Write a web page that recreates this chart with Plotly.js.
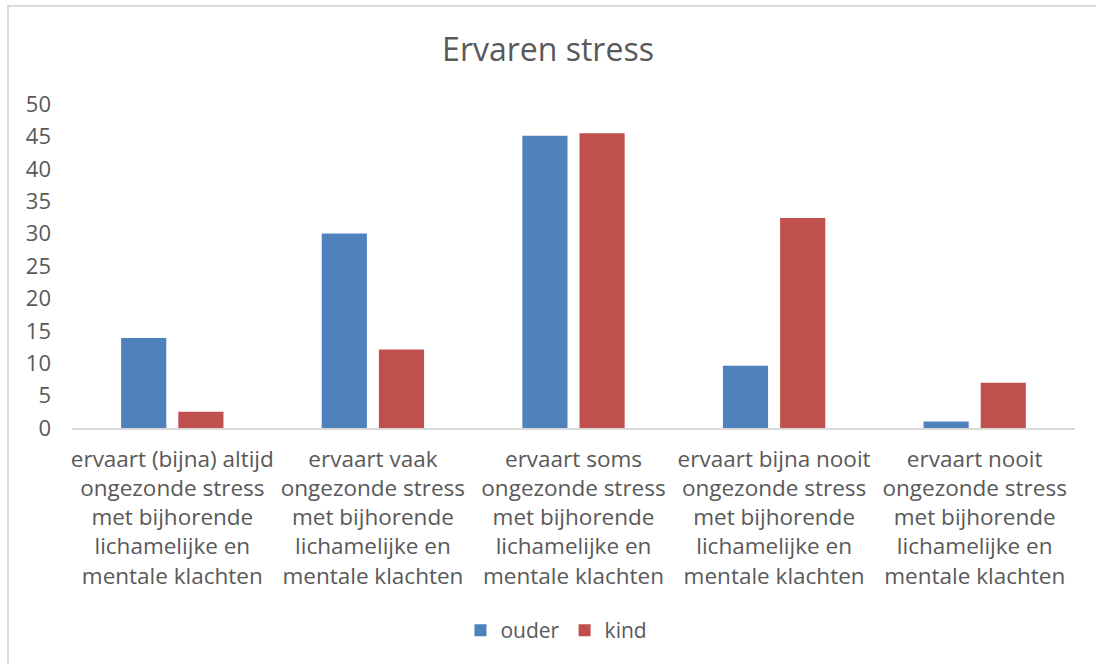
<!DOCTYPE html>
<html>
<head>
<meta charset="utf-8">
<script src="https://cdn.plot.ly/plotly-3.0.1.min.js"></script>
<style>
html,body{margin:0;padding:0;background:#fff;overflow:hidden;}
#chart{width:1096px;height:664px;}
#frame{position:absolute;left:7px;top:5px;width:2000px;height:2000px;border:2px solid #D9D9D9;pointer-events:none;}
</style>
</head>
<body>
<div id="chart"></div>
<div id="frame"></div>
<script>
const categories = [
  "ervaart (bijna) altijd<br>ongezonde stress<br>met bijhorende<br>lichamelijke en<br>mentale klachten",
  "ervaart vaak<br>ongezonde stress<br>met bijhorende<br>lichamelijke en<br>mentale klachten",
  "ervaart soms<br>ongezonde stress<br>met bijhorende<br>lichamelijke en<br>mentale klachten",
  "ervaart bijna nooit<br>ongezonde stress<br>met bijhorende<br>lichamelijke en<br>mentale klachten",
  "ervaart nooit<br>ongezonde stress<br>met bijhorende<br>lichamelijke en<br>mentale klachten"
];
const ouder = [13.9, 30.0, 45.1, 9.6, 1.0];
const kind = [2.5, 12.1, 45.5, 32.4, 7.0];
const yTicks = [0, 5, 10, 15, 20, 25, 30, 35, 40, 45, 50];

const FONT = "Open Sans, sans-serif";
const TXT = "#595959";

const data = [
  {type: "bar", name: "ouder", x: categories, y: ouder, marker: {color: "#4F81BD"}},
  {type: "bar", name: "kind", x: categories, y: kind, marker: {color: "#C0504D"}}
];

const layout = {
  width: 1096, height: 664,
  paper_bgcolor: "#fff", plot_bgcolor: "#fff",
  margin: {l: 72, r: 21, t: 104, b: 236},
  font: {family: FONT, color: TXT, size: 22},
  title: {text: "Ervaren stress", font: {family: FONT, size: 32, color: TXT}, x: 0.5, xanchor: "center", y: 0.925, yanchor: "middle"},
  barmode: "group",
  bargap: 0.43,
  bargroupgap: 0.21,
  showlegend: true,
  legend: {orientation: "h", x: 0.483, xanchor: "center", y: -0.625, yanchor: "middle", font: {family: FONT, size: 21, color: TXT}, itemwidth: 30, tracegroupgap: 0},
  xaxis: {
    showline: true, linecolor: "#D9D9D9", linewidth: 1.5,
    showgrid: false, zeroline: false, ticks: "",
    tickfont: {family: FONT, size: 22.5, color: TXT},
    ticklabelstandoff: 10,
    tickangle: 0
  },
  yaxis: {
    range: [0, 50], tickvals: yTicks, ticktext: yTicks.map(String),
    showgrid: false, zeroline: false, showline: false, ticks: "",
    tickfont: {family: FONT, size: 22, color: TXT},
    ticklabelstandoff: 20
  }
};

Plotly.newPlot("chart", data, layout, {displayModeBar: false, staticPlot: true});
</script>
</body>
</html>
